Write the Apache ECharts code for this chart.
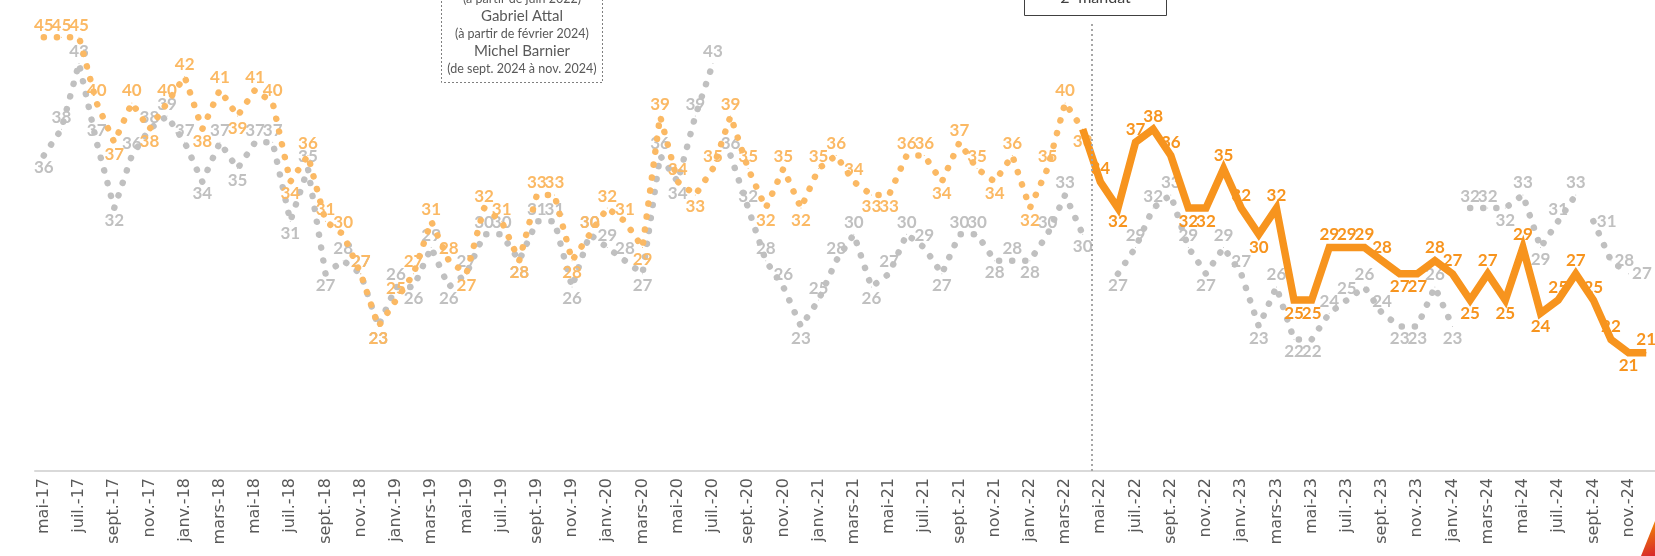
<!DOCTYPE html>
<html>
<head>
<meta charset="utf-8">
<script src="https://cdn.jsdelivr.net/npm/echarts@6/dist/echarts.min.js"></script>
<style>
html, body { margin: 0; padding: 0; background: #fff; }
#chart { width: 1655px; height: 556px; }
</style>
</head>
<body>
<div id="chart"></div>
<script>
// mois (mai 2017 -> déc. 2024)
var months = [
  'mai-17','juin-17','juil.-17','août-17','sept.-17','oct.-17','nov.-17','déc.-17',
  'janv.-18','févr.-18','mars-18','avr.-18','mai-18','juin-18','juil.-18','août-18','sept.-18','oct.-18','nov.-18','déc.-18',
  'janv.-19','févr.-19','mars-19','avr.-19','mai-19','juin-19','juil.-19','août-19','sept.-19','oct.-19','nov.-19','déc.-19',
  'janv.-20','févr.-20','mars-20','avr.-20','mai-20','juin-20','juil.-20','août-20','sept.-20','oct.-20','nov.-20','déc.-20',
  'janv.-21','févr.-21','mars-21','avr.-21','mai-21','juin-21','juil.-21','août-21','sept.-21','oct.-21','nov.-21','déc.-21',
  'janv.-22','févr.-22','mars-22','avr.-22','mai-22','juin-22','juil.-22','août-22','sept.-22','oct.-22','nov.-22','déc.-22',
  'janv.-23','févr.-23','mars-23','avr.-23','mai-23','juin-23','juil.-23','août-23','sept.-23','oct.-23','nov.-23','déc.-23',
  'janv.-24','févr.-24','mars-24','avr.-24','mai-24','juin-24','juil.-24','août-24','sept.-24','oct.-24','nov.-24','déc.-24'
];

// président : 1er mandat (mai-17 -> avr.-22), 2e mandat (mai-22 -> déc.-24)
var presidentMandat1 = [45,45,45,40,37,40,38,40,42,38,41,39,41,40,34,36,31,30,27,23,
                        25,27,31,28,27,32,31,28,33,33,28,30,32,31,29,39,34,33,35,39,
                        35,32,35,32,35,36,34,33,33,36,36,34,37,35,34,36,32,35,40,38];
var presidentMandat2 = [34,32,37,38,36,32,32,35,32,30,32,25,25,29,29,29,28,27,27,28,
                        27,25,27,25,29,24,25,27,25,22,21,21];

// premiers ministres (index de départ dans months)
var pmPhilippe = [36,38,43,37,32,36,38,39,37,34,37,35,37,37,31,35,27,28,27,23,
                  26,26,29,26,27,30,30,28,31,31,26,30,29,28,27,36,34,39,43];   // start 0
var pmCastex = [36,32,28,26,23,25,28,30,26,27,30,29,27,30,30,28,28,28,30,33,30]; // start 39
var pmBorne = [27,29,32,33,29,27,29,27,23,26,22,22,24,25,26,24,23,23,26,23];     // start 61
var pmAttal = [32,32,32,33,29,31,33];                                             // start 81
var pmBarnier = [31,28,27];                                                       // start 88

var ORANGE_LIGHT = '#FBB964';
var ORANGE = '#F7941E';
var GREY = '#C0C0C0';

function build(values, start, hideFirstLabel, forcePos) {
  var out = months.map(function () { return '-'; });
  values.forEach(function (v, k) {
    var prev = values[k - 1], next = values[k + 1];
    var pos = 'top';
    if ((prev === undefined || v <= prev) && (next === undefined || v <= next) &&
        ((prev !== undefined && v < prev) || (next !== undefined && v < next))) {
      pos = 'bottom';
    }
    if (forcePos) pos = forcePos;
    var item = { value: v, label: { position: pos } };
    if (hideFirstLabel && k === 0) item.label.show = false;
    out[start + k] = item;
  });
  return out;
}

function dotted(name, values, start, color, z, forcePos) {
  return {
    name: name,
    type: 'line',
    z: z,
    data: build(values, start, false, forcePos),
    symbol: 'circle',
    symbolSize: 1,
    showAllSymbol: true,
    itemStyle: { color: color },
    lineStyle: { color: color, width: 6.5, type: [0.1, 13], cap: 'round' },
    label: { show: true, color: color, fontFamily: 'Lato', fontWeight: 'bold', fontSize: 17, distance: 3 },
    emphasis: { disabled: true },
    connectNulls: false
  };
}

var chart = echarts.init(document.getElementById('chart'));

var series = [
  dotted('Philippe', pmPhilippe, 0, GREY, 1),
  dotted('Castex', pmCastex, 39, GREY, 1),
  dotted('Borne', pmBorne, 61, GREY, 1),
  dotted('Attal', pmAttal, 81, GREY, 1),
  dotted('Barnier', pmBarnier, 88, GREY, 1, 'right'),
  dotted('Macron 1', presidentMandat1, 0, ORANGE_LIGHT, 2),
  {
    name: 'Macron 2',
    type: 'line',
    z: 3,
    data: build([presidentMandat1[presidentMandat1.length - 1]].concat(presidentMandat2), presidentMandat1.length - 1, true),
    symbol: 'circle',
    symbolSize: 1,
    showAllSymbol: true,
    itemStyle: { color: ORANGE },
    lineStyle: { color: ORANGE, width: 7.5, join: 'miter' },
    label: { show: true, color: ORANGE, fontFamily: 'Lato', fontWeight: 'bold', fontSize: 17, distance: 4 },
    emphasis: { disabled: true }
  },
  {
    name: 'separation',
    type: 'line',
    xAxisIndex: 1,
    data: [],
    markLine: {
      silent: true,
      symbol: 'none',
      label: { show: false },
      lineStyle: { color: '#A6A6A6', width: 2, type: [2, 3] },
      data: [{ xAxis: presidentMandat1.length - 0.5 }]
    }
  }
];

var option = {
  animation: false,
  backgroundColor: '#fff',
  grid: { left: 35, top: 24, width: 1625, height: 447, containLabel: false },
  xAxis: [
    {
      type: 'category',
      data: months,
      boundaryGap: true,
      axisLine: { lineStyle: { color: '#D9D9D9', width: 2 } },
      axisTick: { show: false },
      axisLabel: { rotate: 90, interval: 1, fontFamily: 'DejaVu Sans, Verdana, sans-serif', fontSize: 16, color: '#595959', margin: 7 },
      splitLine: { show: false }
    },
    {
      type: 'value',
      min: -0.5,
      max: months.length - 0.5,
      show: false
    }
  ],
  yAxis: { type: 'value', min: 12, max: 46, show: false },
  series: series,
  graphic: [
    { type: 'rect', z: 10, shape: { x: 441.5, y: -60, width: 161, height: 142.5 },
      style: { fill: '#fff', stroke: '#7F7F7F', lineWidth: 1, lineDash: [2, 2] } },
    { type: 'text', z: 11, x: 522, y: -1.5,
      style: { text: '(à partir de juin 2022)', textAlign: 'center', textVerticalAlign: 'middle', font: '12.5px Lato', fill: '#595959' } },
    { type: 'text', z: 11, x: 522, y: 16,
      style: { text: 'Gabriel Attal', textAlign: 'center', textVerticalAlign: 'middle', font: '15px Lato', fill: '#595959' } },
    { type: 'text', z: 11, x: 522, y: 33.5,
      style: { text: '(à partir de février 2024)', textAlign: 'center', textVerticalAlign: 'middle', font: '12.5px Lato', fill: '#595959' } },
    { type: 'text', z: 11, x: 522, y: 51,
      style: { text: 'Michel Barnier', textAlign: 'center', textVerticalAlign: 'middle', font: '15px Lato', fill: '#595959' } },
    { type: 'text', z: 11, x: 522, y: 68.5,
      style: { text: '(de sept. 2024 à nov. 2024)', textAlign: 'center', textVerticalAlign: 'middle', font: '12.5px Lato', fill: '#595959' } },
    { type: 'rect', z: 10, shape: { x: 1024.5, y: -40, width: 142, height: 55.5 },
      style: { fill: '#fff', stroke: '#404040', lineWidth: 1 } },
    { type: 'text', z: 11, x: 1095.5, y: -2,
      style: { text: '2ᵉ mandat', textAlign: 'center', textVerticalAlign: 'middle', font: '16px Lato', fill: '#404040' } },
    { type: 'polygon', z: 12, shape: { points: [[1641, 556], [1655, 521], [1655, 556]] },
      style: { fill: new echarts.graphic.LinearGradient(0, 0, 1, 1, [
        { offset: 0, color: '#F39200' }, { offset: 1, color: '#D8262C' }]) } }
  ]
};

chart.setOption(option);
</script>
</body>
</html>
